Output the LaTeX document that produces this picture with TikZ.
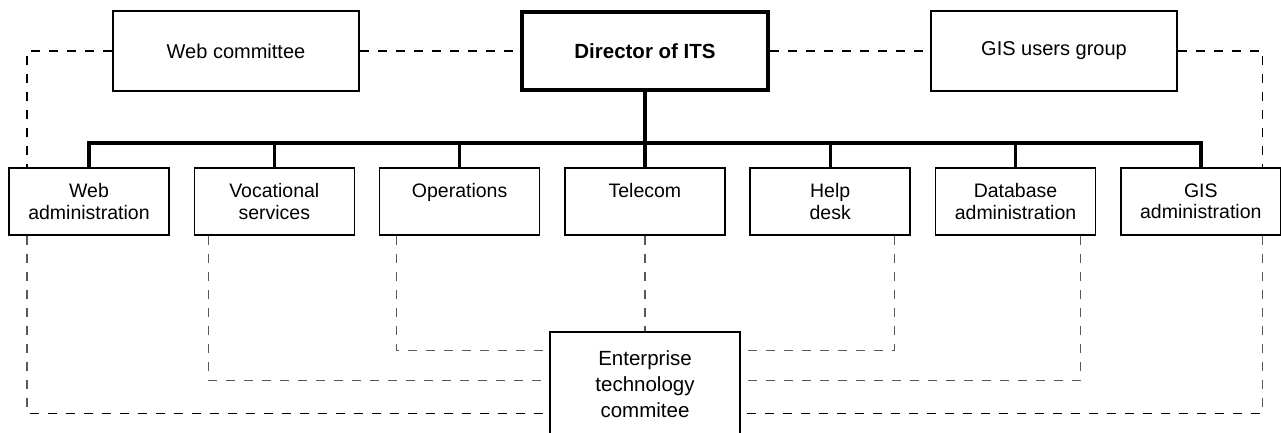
\documentclass[tikz,border=0pt]{standalone}
\usepackage{fontspec}
\setmainfont{Liberation Sans}
\usetikzlibrary{backgrounds}
\begin{document}
\begin{tikzpicture}[x=1pt,y=-1pt,
  box/.style={draw=black, fill=white, line width=1.6pt, inner sep=0pt, align=center},
  topbox/.style={box, minimum width=246pt, minimum height=80pt,
    font=\fontsize{20}{24}\selectfont},
  headbox/.style={topbox, line width=3.6pt, minimum width=246pt, minimum height=78pt,
    font=\fontsize{20.5}{24}\selectfont\bfseries},
  unitbox/.style={box, minimum width=160pt, minimum height=67pt,
    font=\fontsize{19.5}{21.5}\selectfont},
  entbox/.style={box, minimum width=190pt, minimum height=104pt,
    font=\fontsize{20.5}{26}\selectfont},
  bus/.style={line width=3.4pt, line join=miter},
  toplink/.style={draw=black, line width=1.1pt, dash pattern=on 9pt off 9pt},
  sublink/.style={draw=black!65, line width=1.2pt, dash pattern=on 9pt off 9pt}]

\useasboundingbox (0,0) rectangle (1281,432);
\clip (0,0) rectangle (1281,432);

% committees and director
\node[topbox]  (webcom) at (236,51)   {Web committee};
\node[headbox] (dir)    at (645,51)   {Director of ITS};
\node[topbox]  (gisusr) at (1054,51)  {GIS users group};

% units
\node[unitbox] (wadm) at (89,201.5)    {Web\\administration};
\node[unitbox] (voc)  at (274.3,201.5) {Vocational\\services};
\node[unitbox] (ops)  at (459.6,201.5) {Operations\\~};
\node[unitbox] (tel)  at (644.9,201.5) {Telecom\\~};
\node[unitbox] (help) at (830.2,201.5) {Help\\desk};
\node[unitbox] (dba)  at (1015.5,201.5){Database\\administration};
\node[unitbox] (gadm) at (1200.8,201.5){GIS\\administration};

% steering committee
\node[entbox] (ent) at (645,384) {Enterprise\\technology\\commitee};

\coordinate (busy) at (0,143);

\begin{scope}[on background layer]
  % reporting lines
  \draw[bus] (wadm.north) -- (wadm.north |- busy) -- (gadm.north |- busy) -- (gadm.north);
  \draw[bus] (dir.south) -- (dir.south |- busy);
  \foreach \u in {voc,ops,tel,help,dba}
    \draw[bus] (\u.north) -- (\u.north |- busy);

  % committee links
  \draw[toplink] (webcom.east) -- (dir.west);
  \draw[toplink] (dir.east) -- (gisusr.west);
  \draw[toplink] (webcom.west) -| ([xshift=-62pt,yshift=-82pt]wadm.south |- ent.north)
                 -- ([yshift=-82pt]ent.north west);
  \draw[toplink] (gisusr.east) -| ([xshift=62pt,yshift=-82pt]gadm.south |- ent.north)
                 -- ([yshift=-82pt]ent.north east);

  % unit links to the technology committee
  \draw[sublink] ([xshift=-66pt]voc.south) |- ([yshift=-49pt]ent.north west);
  \draw[sublink] ([xshift=-63pt]ops.south) |- ([yshift=-19pt]ent.north west);
  \draw[sublink] (tel.south) -- (tel.south |- ent.north);
  \draw[sublink] ([xshift=64pt]help.south) |- ([yshift=-19pt]ent.north east);
  \draw[sublink] ([xshift=65pt]dba.south) |- ([yshift=-49pt]ent.north east);
  \draw[sublink] ([xshift=-62pt]wadm.south) -- ([xshift=-62pt,yshift=-82pt]wadm.south |- ent.north);
  \draw[sublink] ([xshift=62pt]gadm.south) -- ([xshift=62pt,yshift=-82pt]gadm.south |- ent.north);
\end{scope}
\end{tikzpicture}
\end{document}
